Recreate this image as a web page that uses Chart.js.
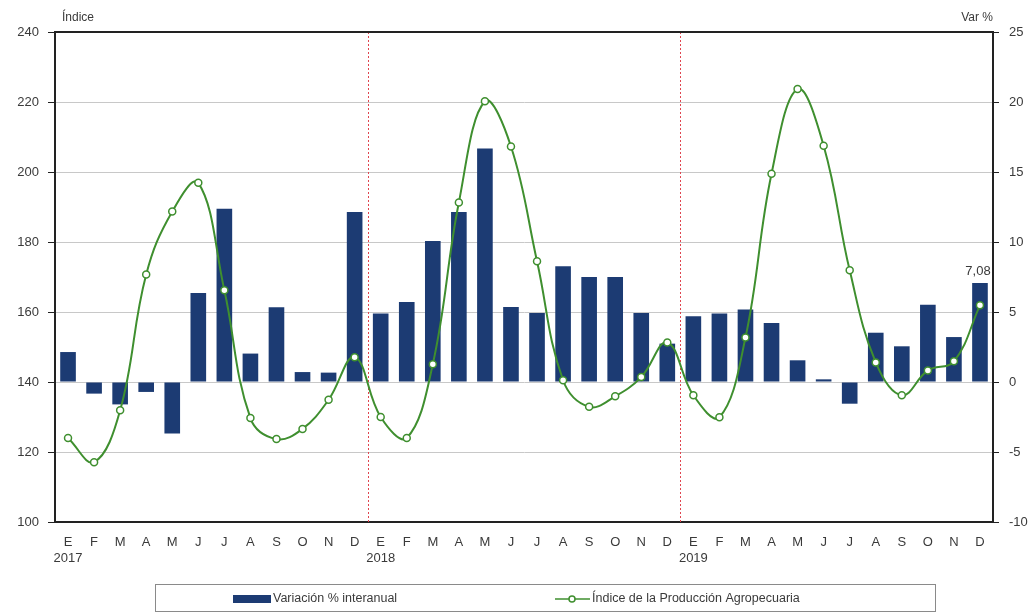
<!DOCTYPE html>
<html>
<head>
<meta charset="utf-8">
<script src="https://cdn.jsdelivr.net/npm/chart.js@4/dist/chart.umd.min.js"></script>
<style>
  html, body { margin: 0; padding: 0; background: #fff; }
  #wrap { width: 1035px; height: 616px; position: relative; }
</style>
</head>
<body>
<div id="wrap"><canvas id="chart"></canvas></div>
<script>
// Month and year labels
const MONTHS = ['E', 'F', 'M', 'A', 'M', 'J', 'J', 'A', 'S', 'O', 'N', 'D'];
const YEARS = ['2017', '2018', '2019'];

// Variación % interanual (right axis)
const variacion = [
    2.14, -0.83, -1.6, -0.71, -3.68, 6.36, 12.38, 2.03, 5.34, 0.71, 0.67, 12.14,
    4.89, 5.71, 10.07, 12.14, 16.67, 5.36, 4.93, 8.26, 7.5, 7.5, 4.93, 2.74,
    4.69, 4.89, 5.17, 4.21, 1.55, 0.19, -1.55, 3.52, 2.55, 5.52, 3.21, 7.08
];

// Índice de la Producción Agropecuaria (left axis)
const indice = [
    124.0, 117.1, 131.9, 170.7, 188.7, 196.9, 166.2, 129.7, 123.7, 126.6, 134.9, 147.1,
    130.0, 124.0, 145.1, 191.3, 220.2, 207.3, 174.5, 140.5, 132.9, 135.9, 141.4, 151.3,
    136.2, 129.9, 152.7, 199.5, 223.7, 207.5, 171.9, 145.6, 136.2, 143.3, 145.9, 161.9
];

const LAST_LABEL = '7,08';

const BAR_COLOR = '#1c3b73';
const LINE_COLOR = '#3f8f2f';
const TEXT_COLOR = '#3a3a3a';
const FONT = 'Liberation Sans, Arial, sans-serif';

// Build category labels: first month of each year carries the year underneath
const labels = [];
YEARS.forEach(y => {
    MONTHS.forEach((m, i) => labels.push(i === 0 ? [m, y] : m));
});

// Draws axis titles, year separators, value label and the boxed legend
const extras = {
    id: 'extras',
    beforeDatasetsDraw(chart) {
        const { ctx, chartArea, scales } = chart;
        const x = scales.x;
        ctx.save();
        ctx.strokeStyle = '#e0454f';
        ctx.lineWidth = 1;
        ctx.setLineDash([2, 2]);
        [12, 24].forEach(i => {
            const px = Math.round((x.getPixelForValue(i - 1) + x.getPixelForValue(i)) / 2) + 0.5;
            ctx.beginPath();
            ctx.moveTo(px, chartArea.top);
            ctx.lineTo(px, chartArea.bottom);
            ctx.stroke();
        });
        ctx.restore();
    },
    afterDraw(chart) {
        const { ctx, chartArea, scales } = chart;
        ctx.save();
        ctx.fillStyle = TEXT_COLOR;
        ctx.font = `12px ${FONT}`;
        ctx.textBaseline = 'middle';
        ctx.textAlign = 'left';
        ctx.fillText('Índice', 62, 18);
        ctx.textAlign = 'right';
        ctx.fillText('Var %', 993, 18);

        // value label on last bar
        const last = variacion.length - 1;
        ctx.font = `13px ${FONT}`;
        ctx.textAlign = 'center';
        ctx.textBaseline = 'bottom';
        ctx.fillText(LAST_LABEL, scales.x.getPixelForValue(last) - 2, scales.y1.getPixelForValue(variacion[last]) - 5);

        // top border of plot
        ctx.strokeStyle = '#222';
        ctx.lineWidth = 2;
        ctx.beginPath();
        ctx.moveTo(chartArea.left, chartArea.top);
        ctx.lineTo(chartArea.right, chartArea.top);
        ctx.stroke();

        // legend box
        ctx.strokeStyle = '#8a8a8a';
        ctx.lineWidth = 1;
        ctx.strokeRect(155.5, 584.5, 780, 27);
        const ly = 599;
        ctx.fillStyle = BAR_COLOR;
        ctx.fillRect(233, ly - 4, 38, 8);
        ctx.fillStyle = TEXT_COLOR;
        ctx.font = `12.5px ${FONT}`;
        ctx.textAlign = 'left';
        ctx.textBaseline = 'middle';
        ctx.fillText('Variación % interanual', 273, ly);

        ctx.strokeStyle = LINE_COLOR;
        ctx.lineWidth = 1.5;
        ctx.beginPath();
        ctx.moveTo(555, ly);
        ctx.lineTo(590, ly);
        ctx.stroke();
        ctx.beginPath();
        ctx.arc(572, ly, 3, 0, Math.PI * 2);
        ctx.fillStyle = '#fff';
        ctx.fill();
        ctx.stroke();
        ctx.fillStyle = TEXT_COLOR;
        ctx.fillText('Índice de la Producción Agropecuaria', 592, ly);
        ctx.restore();
    }
};

const setup = () => {
    const ctx = document.getElementById('chart').getContext('2d');
    new Chart(ctx, {
        type: 'bar',
        data: {
            labels: labels,
            datasets: [
                {
                    type: 'line',
                    label: 'Índice de la Producción Agropecuaria',
                    data: indice,
                    yAxisID: 'y',
                    borderColor: LINE_COLOR,
                    borderWidth: 2,
                    tension: 0.4,
                    pointRadius: 3.5,
                    pointBackgroundColor: '#fff',
                    pointBorderColor: LINE_COLOR,
                    pointBorderWidth: 1.5,
                    order: 0
                },
                {
                    type: 'bar',
                    label: 'Variación % interanual',
                    data: variacion,
                    yAxisID: 'y1',
                    backgroundColor: BAR_COLOR,
                    barPercentage: 0.6,
                    categoryPercentage: 1,
                    order: 1
                }
            ]
        },
        options: {
            responsive: true,
            maintainAspectRatio: false,
            animation: false,
            layout: { padding: { top: 32, left: 0, right: 0, bottom: 0 } },
            plugins: {
                legend: { display: false },
                tooltip: { enabled: false }
            },
            scales: {
                x: {
                    offset: true,
                    grid: { display: false },
                    border: { color: '#222', width: 2 },
                    ticks: {
                        color: TEXT_COLOR,
                        font: { family: FONT, size: 13 },
                        padding: 5,
                        maxRotation: 0,
                        autoSkip: false
                    },
                    afterFit: s => { s.height = 94; }
                },
                y: {
                    position: 'left',
                    min: 100,
                    max: 240,
                    ticks: {
                        stepSize: 20,
                        color: TEXT_COLOR,
                        font: { family: FONT, size: 13 },
                        padding: 9
                    },
                    grid: {
                        color: '#c8c8c8',
                        tickColor: '#222',
                        tickLength: 7,
                        lineWidth: 1
                    },
                    border: { color: '#222', width: 2 },
                    afterFit: s => { s.width = 55; }
                },
                y1: {
                    position: 'right',
                    min: -10,
                    max: 25,
                    ticks: {
                        stepSize: 5,
                        color: TEXT_COLOR,
                        font: { family: FONT, size: 13 },
                        padding: 10
                    },
                    grid: {
                        drawOnChartArea: false,
                        tickColor: '#222',
                        tickLength: 6
                    },
                    border: { color: '#222', width: 2 },
                    afterFit: s => { s.width = 42; }
                }
            }
        },
        plugins: [extras]
    });
};

document.addEventListener('DOMContentLoaded', setup);
</script>
</body>
</html>
